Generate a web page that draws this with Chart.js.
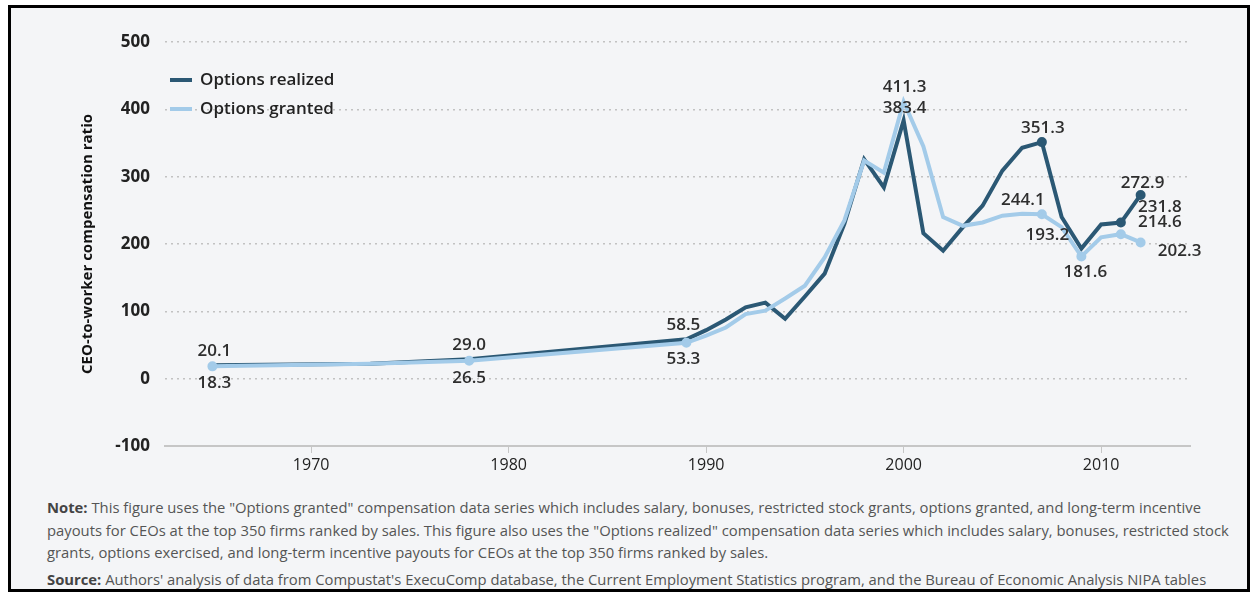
<!DOCTYPE html>
<html>
<head>
<meta charset="utf-8">
<script src="https://cdn.jsdelivr.net/npm/chart.js@4.4.0/dist/chart.umd.min.js"></script>
<style>
  body { margin: 0; background: #fff; }
  #frame {
    position: absolute; left: 8px; top: 5px; width: 1242px; height: 587px;
    border: 3px solid #000; box-sizing: border-box; background: #f4f5f7;
    font-family: "Open Sans", sans-serif; overflow: hidden;
  }
  #chart { position: absolute; left: 0; top: 0; }
  .note {
    position: absolute; left: 36px; white-space: nowrap;
    font-size: 14.8px; line-height: 18px; color: #555;
  }
  .note b { color: #444; }
</style>
</head>
<body>
<div id="frame">
  <canvas id="chart" width="1236" height="472"></canvas>
  <div class="note" style="top:490px"><b>Note:</b> This figure uses the "Options granted" compensation data series which includes salary, bonuses, restricted stock grants, options granted, and long-term incentive</div>
  <div class="note" style="top:513px">payouts for CEOs at the top 350 firms ranked by sales. This figure also uses the "Options realized" compensation data series which includes salary, bonuses, restricted stock</div>
  <div class="note" style="top:535px">grants, options exercised, and long-term incentive payouts for CEOs at the top 350 firms ranked by sales.</div>
  <div class="note" style="top:562px"><b>Source:</b> Authors' analysis of data from Compustat's ExecuComp database, the Current Employment Statistics program, and the Bureau of Economic Analysis NIPA tables</div>
</div>
<script>
const years = [1965, 1973, 1978, 1989, 1990, 1991, 1992, 1993, 1994, 1995, 1996, 1997, 1998, 1999,
  2000, 2001, 2002, 2003, 2004, 2005, 2006, 2007, 2008, 2009, 2010, 2011, 2012];
const optionsRealized = [20.1, 22.3, 29.0, 58.5, 72, 88, 106, 113, 89, 122, 156, 230, 326, 284,
  383.4, 216, 190, 225, 257, 309, 343, 351.3, 240, 193.2, 229, 231.8, 272.9];
const optionsGranted = [18.3, 22.2, 26.5, 53.3, 64, 76, 96, 101, 119, 138, 180, 235, 324, 306,
  411.3, 345, 240, 227, 232, 242, 245, 244.1, 225, 181.6, 210, 214.6, 202.3];
const xTicks = [1970, 1980, 1990, 2000, 2010];

// which points get a value label, and where the label sits relative to the point
const realizedLabels = [[0, 2, -14], [2, 0, -14], [3, -3, -14], [14, 1, -12], [21, 1, -14], [23, -34, -13], [25, 39, -15], [26, 2, -12]];
const grantedLabels = [[0, 2, 17], [2, 0, 17], [3, -3, 16], [14, 1, -15], [21, -19, -14], [23, 4, 16], [25, 39, -12], [26, 39, 9]];
// points that show a dot
const realizedDots = [21, 25, 26];
const grantedDots = [0, 2, 3, 21, 23, 25, 26];

const darkBlue = "#2b5874";
const lightBlue = "#a3cbe9";

function toPoints(vals) {
  return years.map((y, i) => ({ x: y, y: vals[i] }));
}
function radii(idx) {
  return years.map((y, i) => idx.includes(i) ? 3 : 0);
}

const valueLabels = {
  id: "valueLabels",
  afterDatasetsDraw(chart) {
    const ctx = chart.ctx;
    ctx.save();
    ctx.font = "600 17px 'Open Sans'";
    ctx.fillStyle = "#2e2e2e";
    ctx.textAlign = "center";
    ctx.textBaseline = "middle";
    chart.data.datasets.forEach((ds, di) => {
      const meta = chart.getDatasetMeta(di);
      ds.labelSpots.forEach(([i, dx, dy]) => {
        const p = meta.data[i];
        ctx.fillText(ds.data[i].y.toFixed(1), p.x + dx, p.y + dy);
      });
    });
    ctx.restore();
  }
};

const innerLegend = {
  id: "innerLegend",
  afterDraw(chart) {
    const ctx = chart.ctx;
    ctx.save();
    ctx.font = "600 17px 'Open Sans'";
    ctx.textBaseline = "middle";
    chart.data.datasets.forEach((ds, i) => {
      const y = 72 + i * 29;
      ctx.strokeStyle = ds.borderColor;
      ctx.lineWidth = 4;
      ctx.beginPath();
      ctx.moveTo(159, y);
      ctx.lineTo(181, y);
      ctx.stroke();
      ctx.fillStyle = "#222";
      ctx.fillText(ds.label, 189, y);
    });
    ctx.restore();
  }
};

new Chart(document.getElementById("chart"), {
  type: "line",
  data: {
    datasets: [
      {
        label: "Options realized",
        data: toPoints(optionsRealized),
        borderColor: darkBlue,
        backgroundColor: darkBlue,
        borderWidth: 4,
        pointRadius: radii(realizedDots),
        labelSpots: realizedLabels,
        order: 1,
        tension: 0
      },
      {
        label: "Options granted",
        data: toPoints(optionsGranted),
        borderColor: lightBlue,
        backgroundColor: lightBlue,
        borderWidth: 4,
        pointRadius: radii(grantedDots),
        labelSpots: grantedLabels,
        order: 0,
        tension: 0
      }
    ]
  },
  options: {
    responsive: false,
    animation: false,
    layout: { padding: { top: 34, right: 57, left: 0, bottom: 0 } },
    plugins: { legend: { display: false }, tooltip: { enabled: false } },
    scales: {
      x: {
        type: "linear",
        min: 1962.6,
        max: 2014.5,
        afterBuildTicks: (scale) => { scale.ticks = xTicks.map(v => ({ value: v })); },
        afterFit: (scale) => { scale.height = 34; },
        grid: { drawOnChartArea: false, drawTicks: true, tickLength: 7, color: "#c6c6c6" },
        border: { display: true, color: "#c6c6c6", width: 2 },
        ticks: {
          color: "#222", font: { family: "Open Sans", size: 16 }, padding: 3,
          callback: (v) => String(v)
        }
      },
      y: {
        min: -100,
        max: 500,
        ticks: { stepSize: 100, color: "#222", font: { family: "Open Sans", size: 17, weight: "bold" }, padding: 15 },
        afterFit: (scale) => { scale.width = 154; },
        grid: {
          drawTicks: false,
          color: (c) => c.tick.value === -100 ? "rgba(0,0,0,0)" : "#c2c2c2",
          lineWidth: 1.5
        },
        border: { display: false, dash: [2, 4] },
        title: {
          display: true,
          text: "CEO-to-worker compensation ratio",
          color: "#111",
          font: { family: "Open Sans", size: 15, weight: "bold" },
          padding: { top: 68, bottom: 0 }
        }
      }
    }
  },
  plugins: [valueLabels, innerLegend]
});
</script>
</body>
</html>
